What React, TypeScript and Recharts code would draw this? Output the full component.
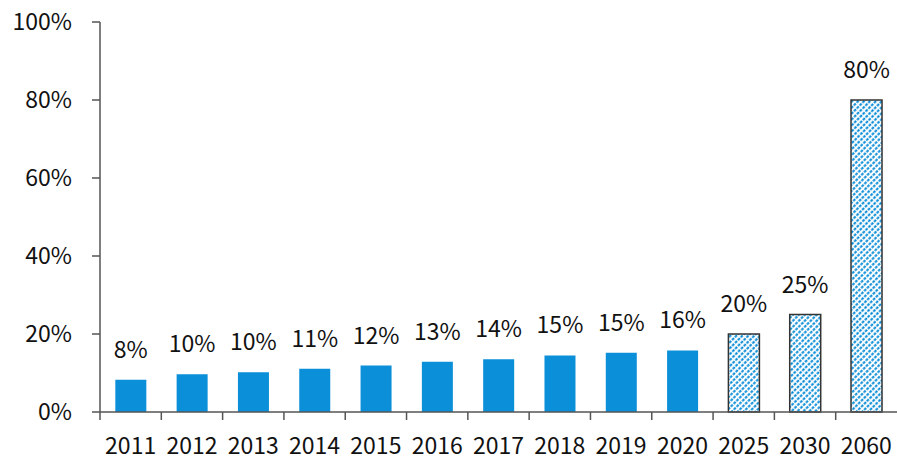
import React from 'react';
import { BarChart, Bar, XAxis, YAxis, Cell, LabelList } from 'recharts';

const years = ['2011', '2012', '2013', '2014', '2015', '2016', '2017', '2018', '2019', '2020', '2025', '2030', '2060'];
const shares = [8.3, 9.7, 10.2, 11.1, 11.9, 12.9, 13.5, 14.5, 15.2, 15.8, 20, 25, 80];
const shareLabels = ['8%', '10%', '10%', '11%', '12%', '13%', '14%', '15%', '15%', '16%', '20%', '25%', '80%'];
const projected = [false, false, false, false, false, false, false, false, false, false, true, true, true];
const yTicks = [0, 20, 40, 60, 80, 100];

const data = years.map((year, i) => ({
  year,
  share: shares[i],
  label: shareLabels[i],
  projected: projected[i],
}));

const W = 897;
const H = 461;
const TOP = 22;
const X_AXIS_H = 49;
const AXIS_Y = H - X_AXIS_H;
const FONT = '"Noto Sans CJK SC", "Noto Sans", sans-serif';
const BLUE = '#0a8fd8';
const AXIS = '#555555';

// x ticks sit on the category boundaries, not the centres
const YearTick = (props: any) => {
  const { x, payload } = props;
  const half = payload && payload.offset ? payload.offset : 30.65;
  return (
    <g>
      <line x1={x - half} x2={x - half} y1={AXIS_Y} y2={AXIS_Y + 8} stroke={AXIS} strokeWidth={1.5} />
      <text x={x} y={AXIS_Y + 42} textAnchor="middle" fill="#111" fontSize={23} fontFamily={FONT}>
        {payload.value}
      </text>
    </g>
  );
};

const ValueLabel = (props: any) => {
  const { x, y, width, value } = props;
  return (
    <text x={x + width / 2} y={y - 22} textAnchor="middle" fill="#111" fontSize={23} fontFamily={FONT}>
      {value}
    </text>
  );
};

export default function App() {
  return (
    <div style={{ position: 'absolute', left: 0, top: 0, width: W, height: H, background: '#fff' }}>
      <BarChart
        width={W}
        height={H}
        data={data}
        margin={{ top: TOP, right: 0, bottom: 0, left: 0 }}
        barCategoryGap="25%"
      >
        <defs>
          {/* dashed diagonal "/" hatch for the projected years */}
          <pattern id="hatch" patternUnits="userSpaceOnUse" width="4.2" height="4" patternTransform="rotate(45)">
            <rect width="4.2" height="4" fill="#fff" />
            <line x1="2.1" y1="0" x2="2.1" y2="4" stroke="#0088d6" strokeWidth={2} strokeDasharray="2.8 1.2" />
          </pattern>
        </defs>
        <XAxis
          dataKey="year"
          height={X_AXIS_H}
          tick={<YearTick />}
          tickLine={false}
          axisLine={{ stroke: AXIS, strokeWidth: 1.5 }}
          interval={0}
        />
        <YAxis
          domain={[0, 100]}
          ticks={yTicks}
          width={100}
          tickSize={8}
          tickMargin={20}
          tickFormatter={(v: number) => `${v}%`}
          tick={{ fill: '#111', fontSize: 23, fontFamily: FONT }}
          tickLine={{ stroke: AXIS, strokeWidth: 1.5 }}
          axisLine={{ stroke: AXIS, strokeWidth: 1.5 }}
        />
        <Bar dataKey="share" isAnimationActive={false}>
          {data.map((d, i) => (
            <Cell
              key={`c-${i}`}
              fill={d.projected ? 'url(#hatch)' : BLUE}
              stroke={d.projected ? '#333' : 'none'}
              strokeWidth={d.projected ? 1.5 : 0}
            />
          ))}
          <LabelList dataKey="label" content={<ValueLabel />} />
        </Bar>
      </BarChart>
    </div>
  );
}
